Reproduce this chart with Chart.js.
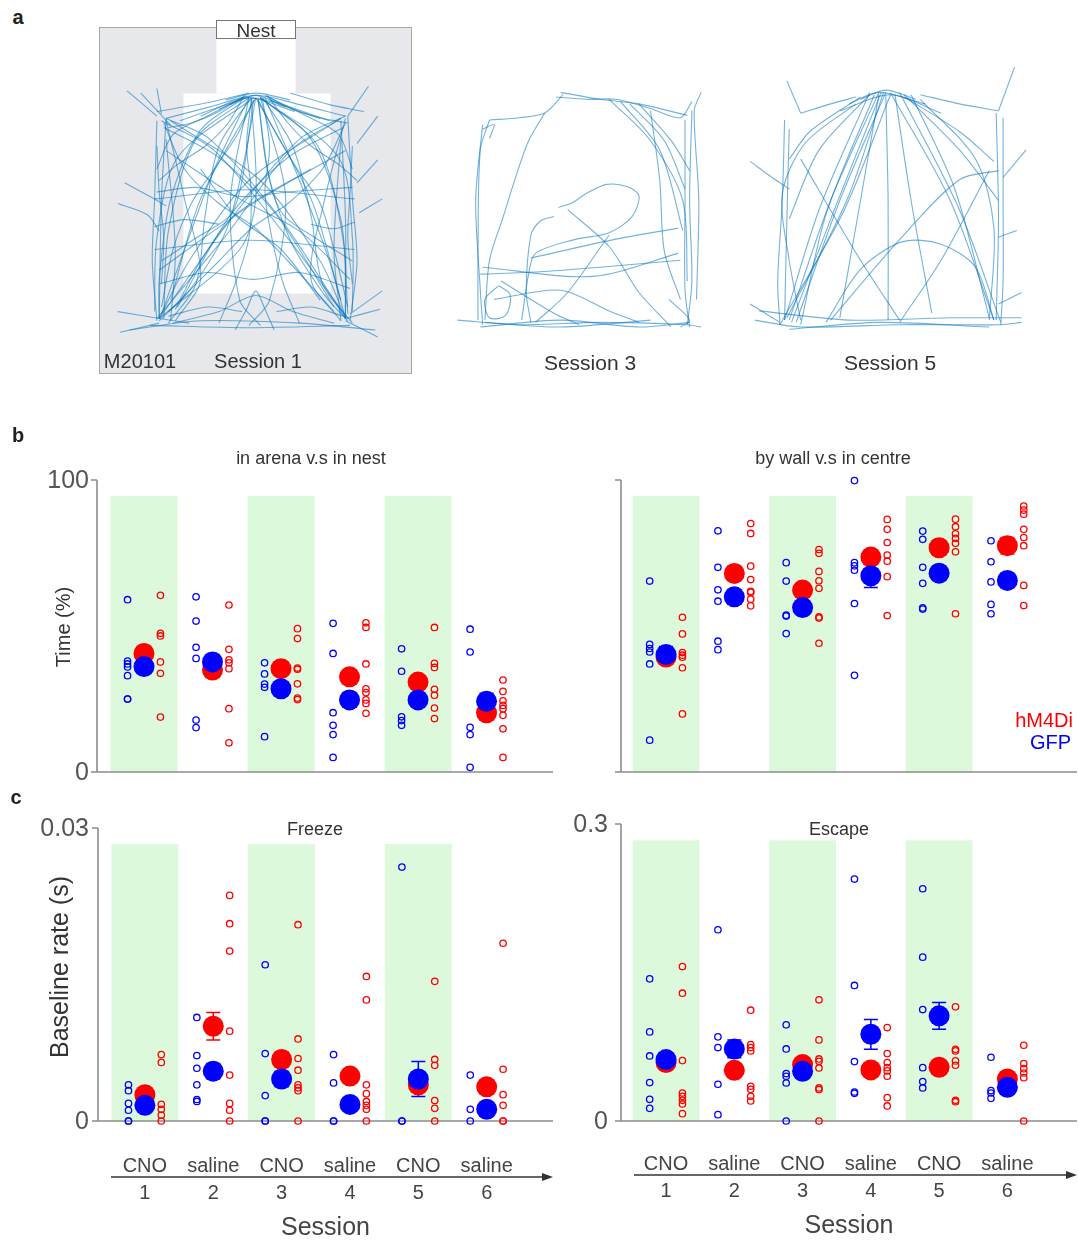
<!DOCTYPE html>
<html><head><meta charset="utf-8">
<script src="https://cdn.jsdelivr.net/npm/chart.js@4/dist/chart.umd.min.js"></script>
<style>
body{margin:0;background:#fff;width:1078px;height:1240px;position:relative;overflow:hidden;font-family:"Liberation Sans",Arial,sans-serif;color:#333}
canvas{position:absolute}
.t{position:absolute;white-space:nowrap;transform:translate(-50%,-50%);line-height:1}
.r{position:absolute;white-space:nowrap;transform:translate(-100%,-50%);line-height:1}
.v{position:absolute;white-space:nowrap;transform:translate(-50%,-50%) rotate(-90deg);line-height:1}
</style></head><body>
<canvas id="s1" width="316" height="358" style="left:97px;top:18px"></canvas>
<canvas id="s3" width="270" height="285" style="left:445px;top:60px"></canvas>
<canvas id="s5" width="310" height="290" style="left:740px;top:55px"></canvas>
<canvas id="bL" width="560" height="345" style="left:0px;top:440px"></canvas>
<canvas id="bR" width="518" height="345" style="left:560px;top:440px"></canvas>
<canvas id="cL" width="560" height="440" style="left:0px;top:800px"></canvas>
<canvas id="cR" width="518" height="440" style="left:560px;top:800px"></canvas>

<div class="t" style="left:18px;top:17px;font-size:20px;font-weight:bold;color:#222">a</div>
<div class="t" style="left:18px;top:435px;font-size:20px;font-weight:bold;color:#222">b</div>
<div class="t" style="left:16px;top:797px;font-size:20px;font-weight:bold;color:#222">c</div>
<div class="t" style="left:256px;top:30px;font-size:19px">Nest</div>
<div class="t" style="left:140px;top:361px;font-size:20px">M20101</div>
<div class="t" style="left:258px;top:361px;font-size:20px">Session 1</div>
<div class="t" style="left:590px;top:362px;font-size:21px">Session 3</div>
<div class="t" style="left:890px;top:362px;font-size:21px">Session 5</div>
<div class="t" style="left:311px;top:458px;font-size:18px">in arena v.s in nest</div>
<div class="t" style="left:833px;top:458px;font-size:18px">by wall v.s in centre</div>
<div class="t" style="left:315px;top:829px;font-size:18px">Freeze</div>
<div class="t" style="left:839px;top:829px;font-size:18px">Escape</div>
<div class="v" style="left:63px;top:627px;font-size:20px">Time (%)</div>
<div class="v" style="left:59px;top:967px;font-size:25px">Baseline rate (s)</div>
<div class="r" style="left:1073px;top:720px;font-size:20px;color:#ff0000">hM4Di</div>
<div class="r" style="left:1071px;top:742px;font-size:20px;color:#0000ff">GFP</div>

<script>
// ---------- categories ----------
const sessions = [1, 2, 3, 4, 5, 6];
const treatment = ['CNO', 'saline', 'CNO', 'saline', 'CNO', 'saline'];
const cnoSessions = [1, 3, 5];

// ---------- b: in arena v.s in nest (Time %) ----------
const arenaGFP = [[59,38,37,36,33,25,25],[60,51.7,42.7,38.9,17.8,15.2],[37.4,33.6,30.1,29,12.1],[50.9,40.6,20.3,16,12.8,5],[42.2,34.5,18.9,17.6,16],[48.9,41.1,15.3,12.8,1.6]];
const arenaHM4Di = [[60.5,47.5,46.6,37.7,33.8,18.8],[57.2,42,38.4,37.4,35.4,21.7,10],[49.1,45.7,35.6,35.2,30.2,25.3,24.8],[51.1,49.5,37,28.5,27.2,24.7,23.5,20.1],[49.5,37.2,35.8,28.3,26.3,21.9,18.3],[31.5,27.6,24.4,22.8,21.7,19.4,14.8,5]];
const arenaGFPMean = [36.1,37.7,28.5,24.7,24.7,24.2];
const arenaHM4DiMean = [40.6,34.9,35.4,32.6,30.8,20.3];
const arenaGFPSem = [2.2,2.5,2,2.5,2.2,2.8];
const arenaHM4DiSem = [2.5,2.5,2,2.2,2.2,2];

// ---------- b: by wall v.s in centre (Time %) ----------
const wallGFP = [[65.4,43.7,42.3,41.1,37,10.9],[82.6,70.1,62.4,58.5,44.8,41.9],[71.7,65.4,53.7,53.4,47.4],[99.8,71.7,70.6,69.1,57.7,33.1],[82.5,79.7,70.1,64.6,56.2,55.8],[79.2,72,65.1,57.4,54.2]];
const wallHM4Di = [[53,47.3,40.9,40,39.3,35.7,19.9],[85.1,81.7,70.5,65.9,61.9,61.5,59.2,56.9],[76.2,74.9,68.7,65.5,62.9,53.1,52.7,44.1],[86.5,83.1,78.6,74.3,72.2,66.9,53.6],[86.6,84,81.6,80,78.3,75.4,54.2],[91.1,89.7,88.3,83.1,80.3,77.5,63.9,57]];
const wallGFPMean = [40.2,60,56.3,67.2,68.1,65.6];
const wallHM4DiMean = [39.4,68,62.3,73.6,76.8,77.5];
const wallGFPSem = [2.8,2.5,2.2,4,2.5,2.5];
const wallHM4DiSem = [2,2.5,2.2,2.5,2.5,2.8];

// ---------- c: Freeze baseline rate (s) ----------
const freezeGFP = [[0.0037,0.0031,0.0018,0.0011,0,0],[0.0106,0.0067,0.0054,0.0037,0.0022,0.0020],[0.0160,0.0069,0.0026,0,0],[0.0068,0.0039,0,0],[0.0260,0,0],[0.0047,0.0012,0]];
const freezeHM4Di = [[0.0068,0.0060,0.0017,0.0012,0.0006,0],[0.0231,0.0202,0.0174,0.0092,0.0047,0.0018,0.0011,0],[0.0201,0.0084,0.0064,0.0052,0.0037,0.0034,0.0031,0],[0.0148,0.0124,0.0037,0.0028,0.0020,0.0016,0.0012,0],[0.0143,0.0063,0.0057,0.0021,0.0013,0],[0.0182,0.0053,0.0027,0.0016,0,0]];
const freezeGFPMean = [0.0016,0.0051,0.0043,0.0017,0.0043,0.0012];
const freezeHM4DiMean = [0.0027,0.0097,0.0063,0.0046,0.0037,0.0035];
const freezeGFPSem = [0.0005,0.0008,0.0008,0.0006,0.0018,0.0004];
const freezeHM4DiSem = [0.0006,0.0014,0.0008,0.0007,0.0006,0.0007];

// ---------- c: Escape baseline rate (s) ----------
const escapeGFP = [[0.1436,0.09,0.0657,0.0388,0.0219,0.0128],[0.1932,0.085,0.0742,0.0371,0.0064],[0.0971,0.0728,0.0479,0.0452,0.0384,0],[0.2444,0.1369,0.06,0.0293,0.028],[0.2346,0.1655,0.1126,0.0539,0.0398,0.0334],[0.0644,0.0307,0.0283,0.0229]];
const escapeHM4Di = [[0.156,0.1291,0.061,0.0283,0.0249,0.0209,0.0172,0.0074],[0.1119,0.0772,0.0742,0.0708,0.0351,0.032,0.0249,0.0202],[0.1224,0.0819,0.0627,0.0603,0.0536,0.0334,0.0317,0],[0.0944,0.0681,0.059,0.0539,0.0506,0.0452,0.0236,0.0152],[0.1153,0.0725,0.0708,0.0607,0.0563,0.0209,0.0195],[0.0765,0.058,0.0529,0.0485,0.0438,0]];
const escapeGFPMean = [0.062,0.0728,0.0502,0.0876,0.1062,0.034];
const escapeHM4DiMean = [0.059,0.0512,0.057,0.0516,0.0543,0.0425];
const escapeGFPSem = [0.007,0.009,0.006,0.015,0.0135,0.004];
const escapeHM4DiSem = [0.007,0.006,0.006,0.005,0.006,0.005];

// ---------- tick labels ----------
const timeTicks = [0, 100];
const timeTickLabels = ['0', '100'];
const freezeTicks = [0, 0.03];
const freezeTickLabels = ['0', '0.03'];
const escapeTicks = [0, 0.3];
const escapeTickLabels = ['0', '0.3'];

// ---------- a: arena zones (arena units) ----------
const s1ArenaBox = [-22.2, 113.5, -18.7, 131.7];
const s1Centre = [14.3, 78.3, 16.1, 103];
const s1Nest = [28.7, 63, 103, 134.8];
const s1NestLabel = [28.7, 63, 127, 134.8];

// ---------- a: trajectories (arena units) ----------
const traj1 = [
[[41,101],[22,87],[9,57],[4,22],[4,5]],
[[43,101],[28,70],[15,35],[5,7]],
[[48,101],[70,83],[83,48],[86,7]],
[[50,101],[65,65],[78,30],[85,5]],
[[46,101],[41,74],[33,43],[17,17],[4,4]],
[[47,101],[51,70],[61,39],[76,15],[86,4]],
[[4,5],[35,48],[65,83],[85,93]],
[[85,5],[57,48],[26,83],[7,92]],
[[3,91],[2,57],[1,30],[3,4]],
[[7,92],[5,57],[4,5]],
[[86,93],[88,57],[90,30],[87,4]],
[[83,91],[85,48],[85,5]],
[[0,2],[43,1],[87,2]],
[[-9,0],[22,4],[65,3],[98,0]],
[[7,92],[26,97],[46,102],[65,98],[85,93]],
[[3,95],[26,99],[43,103]],
[[61,103],[78,98],[93,95]],
[[-10,104],[3,93]],
[[3,105],[5,94]],
[[-4,103],[9,89]],
[[95,106],[86,93]],
[[99,93],[90,81]],
[[99,74],[90,64]],
[[101,57],[91,51]],
[[-11,64],[0,58],[7,54]],
[[-14,55],[-1,50],[4,43]],
[[-14,8],[4,5],[17,3]],
[[-13,-1],[4,3]],
[[101,17],[87,7]],
[[99,-3],[85,4]],
[[100,9],[85,5]],
[[4,5],[39,35],[46,57],[44,101]],
[[46,101],[22,57],[9,13]],
[[46,101],[70,57],[83,13]],
[[9,91],[48,65],[74,30],[85,5]],
[[83,92],[43,65],[17,30],[4,5]],
[[2,57],[43,61],[89,57]],
[[2,35],[43,39],[89,35]],
[[7,91],[15,57],[22,22],[11,4]],
[[85,92],[76,57],[70,22],[83,4]],
[[37,0],[42,9],[46,17],[50,9],[54,0]],
[[33,100],[46,103],[61,100]],
[[35,98],[46,102],[59,97]],
[[30,96],[43,101],[63,95]],
[[22,93],[43,101],[74,92]],
[[13,91],[39,100]],
[[52,100],[78,91]],
[[22,70],[37,50],[57,35],[74,13]],
[[70,70],[37,50],[22,30],[11,9]],
[[7,78],[39,57],[65,43],[87,22]],
[[85,78],[48,57],[22,39],[4,26]],
[[43,101],[35,57],[39,13],[48,2]],
[[48,101],[59,57],[52,13],[43,2]],
[[7,83],[11,35],[9,4]],
[[83,83],[80,35],[83,4]],
[[43,101],[20,83],[8,43],[6,5]],
[[48,101],[73,80],[84,39],[85,5]],
[[3,5],[33,41],[61,78],[83,92]],
[[86,5],[59,41],[28,78],[5,91]],
[[44,101],[30,80],[24,50],[20,20],[8,3]],
[[49,101],[62,80],[70,50],[75,20],[88,3]],
[[6,88],[30,75],[55,50],[80,10]],
[[84,88],[60,75],[35,50],[12,10]],
[[45,101],[12,75],[3,40],[2,8]],
[[48,101],[82,75],[88,40],[88,8]],
[[40,101],[30,95],[18,90],[8,88]],
[[52,101],[62,96],[75,92],[86,90]],
[[42,102],[25,93],[10,85],[3,70]],
[[50,102],[68,93],[82,85],[88,70]],
[[45,100],[38,85],[28,70],[18,55],[10,35],[5,10]],
[[47,100],[55,85],[64,70],[74,55],[80,35],[86,10]],
[[6,90],[15,70],[30,55],[45,45],[60,30],[80,8]],
[[85,90],[75,70],[60,55],[45,45],[30,30],[8,8]],
[[3,60],[20,62],[40,58],[60,60],[88,62]],
[[4,20],[25,25],[45,22],[65,25],[87,18]],
[[2,45],[15,48],[30,46]],
[[70,46],[80,44],[89,47]],
[[10,3],[30,8],[46,15],[62,8],[80,3]],
[[44,100],[42,80],[44,60],[43,40],[37,20],[30,3]],
[[49,100],[52,80],[50,60],[53,40],[58,20],[65,3]],
[[41,102],[34,90],[24,80],[12,72],[4,65]],
[[51,102],[60,90],[70,80],[82,72],[90,65]],
[[5,30],[20,40],[35,50],[40,65],[45,100]],
[[88,30],[72,40],[58,50],[52,65],[47,100]],
[[3,80],[4,60],[6,40],[5,20]],
[[88,80],[87,60],[86,40],[88,20]],
[[8,6],[25,10],[40,8]],
[[55,8],[70,10],[84,6]]
];
const traj3 = [
[[5,90],[1,77],[0,33],[0,3]],
[[2,88],[-1,55],[1,16],[2,1]],
[[5,90],[18,91],[29,93],[37,101]],
[[34,100],[47,99],[60,99],[75,95],[88,91],[93,98]],
[[36,102],[53,99],[70,97],[91,92]],
[[93,94],[92,55],[93,20],[91,1]],
[[90,90],[90,55],[90,16],[92,0]],
[[97,102],[94,94],[96,55],[95,12]],
[[57,99],[75,81],[89,55],[91,20]],
[[62,98],[79,77],[89,42]],
[[66,97],[81,81],[90,60]],
[[70,97],[84,81],[92,68]],
[[-9,3],[18,1],[53,2],[91,1],[97,0]],
[[1,0],[36,3],[70,0],[92,2]],
[[3,2],[36,0],[75,3]],
[[29,93],[22,81],[16,64],[11,48],[5,29],[3,3]],
[[35,52],[41,54],[47,58],[56,62],[65,61],[70,57],[67,48],[57,41],[42,38],[25,32],[22,23],[19,3]],
[[33,48],[27,46],[23,40],[21,15],[23,2]],
[[39,51],[57,35],[70,15],[84,0]],
[[2,26],[50,22],[87,32]],
[[1,23],[27,24],[53,26],[88,29]],
[[23,30],[59,38],[87,43]],
[[9,18],[14,14],[12,5],[5,4],[3,12],[9,18]],
[[10,20],[33,6],[44,1]],
[[57,40],[39,15],[25,2]],
[[7,12],[36,16],[57,7],[70,2]],
[[83,12],[92,3],[88,0]],
[[2,86],[7,88],[5,82]],
[[75,94],[79,64],[81,33],[88,12]]
];
const traj5 = [
[[9,93],[22,97],[33,100]],
[[61,101],[78,97],[95,94]],
[[3,107],[9,93]],
[[102,113],[95,94]],
[[2,90],[1,55],[-1,20],[0,1]],
[[4,86],[3,47],[2,3]],
[[97,91],[97,55],[97,20],[96,1]],
[[94,93],[95,47],[94,3]],
[[-11,3],[9,0],[52,1],[96,1],[105,2]],
[[-9,7],[30,3],[74,4],[105,4]],
[[4,-1],[43,2],[91,0]],
[[-13,72],[-2,64],[4,60]],
[[-13,10],[0,2]],
[[107,77],[97,65]],
[[103,42],[95,39]],
[[105,15],[95,10]],
[[39,102],[17,51],[2,3]],
[[43,102],[22,55],[4,3]],
[[46,102],[26,55],[7,2]],
[[48,101],[28,51],[0,1]],
[[41,101],[20,49],[9,1]],
[[48,102],[74,55],[93,3]],
[[52,102],[78,51],[96,2]],
[[57,101],[76,60],[91,4]],
[[46,101],[47,55],[47,3]],
[[43,101],[35,55],[26,4]],
[[50,101],[57,55],[66,6]],
[[20,2],[35,25],[53,37],[70,36],[85,26],[93,3]],
[[33,97],[11,80],[1,58],[4,29],[9,3]],
[[61,99],[85,73],[93,43],[91,3]],
[[54,100],[78,85],[93,72]],
[[35,100],[13,85],[4,73]],
[[9,73],[35,29],[52,3]],
[[91,68],[70,29],[52,2]],
[[22,3],[52,38],[78,64],[95,68]],
[[35,99],[46,103],[59,99]],
[[30,97],[43,102],[63,97]],
[[26,94],[48,101],[70,93]],
[[39,101],[17,77],[4,47]],
[[54,101],[78,77],[95,55]],
[[44,102],[24,52],[5,2]],
[[45,102],[29,55],[3,4]]
];

// ---------- styling ----------
const RED = '#ff0000', BLUE = '#0000ff';
const FONT = '"Liberation Sans", Arial, sans-serif';
const TRAJ = 'rgba(0,114,189,0.55)';

// ---------- trajectory panels ----------
function trajChart(id, paths, xr, yr, zonePlugin) {
  const datasets = paths.map(p => ({
    data: p.map(([x, y]) => ({x, y})),
    showLine: true, borderColor: TRAJ, borderWidth: 1.1, pointRadius: 0,
    tension: 0.3, fill: false, clip: false
  }));
  new Chart(document.getElementById(id), {
    type: 'scatter',
    data: {datasets},
    options: {
      responsive: false, animation: false, devicePixelRatio: 1, events: [],
      layout: {padding: 0, autoPadding: false},
      plugins: {legend: {display: false}, tooltip: {enabled: false}},
      scales: {
        x: {type: 'linear', display: false, min: xr[0], max: xr[1]},
        y: {type: 'linear', display: false, min: yr[0], max: yr[1]}
      }
    },
    plugins: zonePlugin ? [zonePlugin] : []
  });
}

const s1Zones = {
  id: 's1zones',
  beforeDatasetsDraw(chart) {
    const {ctx, scales: {x, y}} = chart;
    const rect = (z) => {
      const l = x.getPixelForValue(z[0]), r = x.getPixelForValue(z[1]);
      const b = y.getPixelForValue(z[2]), t = y.getPixelForValue(z[3]);
      return [Math.round(l) + 0.5, Math.round(t) + 0.5, Math.round(r - l), Math.round(b - t)];
    };
    ctx.save();
    let r = rect(s1ArenaBox);
    ctx.fillStyle = '#e6e8ec'; ctx.fillRect(...r);
    ctx.strokeStyle = '#a8a8a8'; ctx.lineWidth = 1; ctx.strokeRect(...r);
    ctx.fillStyle = '#ffffff';
    ctx.fillRect(...rect(s1Centre));
    ctx.fillRect(...rect(s1Nest));
    r = rect(s1NestLabel);
    ctx.strokeStyle = '#777'; ctx.strokeRect(...r);
    ctx.restore();
  }
};

trajChart('s1', traj1, [-23.04, 114.35], [-20, 135.65], s1Zones);
trajChart('s3', traj3, [-14.35, 103.04], [-7.83, 116.09]);
trajChart('s5', traj5, [-17.39, 117.39], [-7.83, 118.26]);

// ---------- dot panels ----------
function deco(o) {
  return {
    id: 'deco',
    beforeDatasetsDraw(chart) {
      const {ctx, chartArea: a, scales: {x, y}} = chart;
      ctx.save();
      const y0 = y.getPixelForValue(0), yt = y.getPixelForValue(o.ymax * 0.945);
      ctx.fillStyle = '#dcf9dc';
      cnoSessions.forEach(s => {
        const l = x.getPixelForValue(s - 0.49), r = x.getPixelForValue(s + 0.49);
        ctx.fillRect(l, yt, r - l, y0 - yt);
      });
      ctx.strokeStyle = '#8c8c8c'; ctx.lineWidth = 1.6;
      ctx.beginPath();
      ctx.moveTo(a.left, y.getPixelForValue(o.ymax)); ctx.lineTo(a.left, y0); ctx.lineTo(a.right, y0);
      o.ticks.forEach(v => { const py = y.getPixelForValue(v); ctx.moveTo(a.left - 6, py); ctx.lineTo(a.left, py); });
      ctx.stroke();
      if (o.tickLabels) {
        ctx.fillStyle = '#555'; ctx.font = '25px ' + FONT;
        ctx.textAlign = 'right'; ctx.textBaseline = 'middle';
        o.ticks.forEach((v, i) => ctx.fillText(o.tickLabels[i], a.left - o.tickGap, y.getPixelForValue(v) + 1));
      }
      o.err.forEach(e => {
        ctx.strokeStyle = e.color; ctx.lineWidth = 1.5; ctx.beginPath();
        e.mean.forEach((m, i) => {
          const px = x.getPixelForValue(sessions[i]);
          const y1 = y.getPixelForValue(m + e.sem[i]), y2 = y.getPixelForValue(m - e.sem[i]);
          ctx.moveTo(px, y1); ctx.lineTo(px, y2);
          ctx.moveTo(px - 7, y1); ctx.lineTo(px + 7, y1);
          ctx.moveTo(px - 7, y2); ctx.lineTo(px + 7, y2);
        });
        ctx.stroke();
      });
      ctx.restore();
    },
    afterDraw(chart) {
      if (!o.sessionAxis) return;
      const {ctx, chartArea: a, scales: {x}} = chart;
      const yA = a.bottom + o.sessionAxis;
      ctx.save();
      ctx.strokeStyle = '#333'; ctx.lineWidth = 1.6;
      ctx.beginPath(); ctx.moveTo(a.left + 13, yA); ctx.lineTo(a.right - 8, yA); ctx.stroke();
      ctx.fillStyle = '#333';
      ctx.beginPath(); ctx.moveTo(a.right, yA); ctx.lineTo(a.right - 11, yA - 4); ctx.lineTo(a.right - 11, yA + 4); ctx.closePath(); ctx.fill();
      ctx.fillStyle = '#444'; ctx.font = '20px ' + FONT; ctx.textAlign = 'center'; ctx.textBaseline = 'middle';
      sessions.forEach((s, i) => {
        const px = x.getPixelForValue(s);
        ctx.fillText(treatment[i], px, yA - 11);
        ctx.fillText(String(s), px, yA + 16);
      });
      ctx.font = '25px ' + FONT;
      ctx.fillText('Session', (a.left + a.right) / 2, yA + 51);
      ctx.restore();
    }
  };
}

function dotChart(id, o) {
  const ind = (arr, off) => arr.flatMap((vals, i) => vals.map(v => ({x: sessions[i] + off, y: v})));
  const mean = (arr) => arr.map((v, i) => ({x: sessions[i], y: v}));
  const datasets = [
    {label: 'GFP mean', data: mean(o.gfpMean), pointRadius: 10.5, pointBackgroundColor: BLUE, pointBorderWidth: 0, pointBorderColor: BLUE, clip: false},
    {label: 'hM4Di mean', data: mean(o.hmMean), pointRadius: 10.5, pointBackgroundColor: RED, pointBorderWidth: 0, pointBorderColor: RED, clip: false},
    {label: 'GFP', data: ind(o.gfp, -0.24), pointRadius: 3.2, pointBackgroundColor: 'rgba(0,0,0,0)', pointBorderColor: BLUE, pointBorderWidth: 1.3, clip: false},
    {label: 'hM4Di', data: ind(o.hm, 0.24), pointRadius: 3.2, pointBackgroundColor: 'rgba(0,0,0,0)', pointBorderColor: RED, pointBorderWidth: 1.3, clip: false}
  ];
  new Chart(document.getElementById(id), {
    type: 'scatter',
    data: {datasets},
    options: {
      responsive: false, animation: false, devicePixelRatio: 1, events: [],
      layout: {padding: o.pad, autoPadding: false},
      plugins: {legend: {display: false}, tooltip: {enabled: false}},
      scales: {
        x: {type: 'linear', display: false, min: o.xr[0], max: o.xr[1]},
        y: {type: 'linear', display: false, min: 0, max: o.ymax}
      }
    },
    plugins: [deco({
      ymax: o.ymax, ticks: o.ticks, tickLabels: o.tickLabels, tickGap: o.tickGap,
      sessionAxis: o.sessionAxis,
      err: [{color: RED, mean: o.hmMean, sem: o.hmSem}, {color: BLUE, mean: o.gfpMean, sem: o.gfpSem}]
    })]
  });
}

dotChart('bL', {gfp: arenaGFP, hm: arenaHM4Di, gfpMean: arenaGFPMean, hmMean: arenaHM4DiMean, gfpSem: arenaGFPSem, hmSem: arenaHM4DiSem,
  ymax: 100, ticks: timeTicks, tickLabels: timeTickLabels, tickGap: 8, xr: [0.314, 6.97],
  pad: {left: 97, right: 7, top: 40, bottom: 13}});
dotChart('bR', {gfp: wallGFP, hm: wallHM4Di, gfpMean: wallGFPMean, hmMean: wallHM4DiMean, gfpSem: wallGFPSem, hmSem: wallHM4DiSem,
  ymax: 100, ticks: timeTicks, tickLabels: null, tickGap: 8, xr: [0.34, 7.02],
  pad: {left: 61, right: 1, top: 40, bottom: 13}});
dotChart('cL', {gfp: freezeGFP, hm: freezeHM4Di, gfpMean: freezeGFPMean, hmMean: freezeHM4DiMean, gfpSem: freezeGFPSem, hmSem: freezeHM4DiSem,
  ymax: 0.03, ticks: freezeTicks, tickLabels: freezeTickLabels, tickGap: 9, xr: [0.314, 6.97], sessionAxis: 56,
  pad: {left: 98, right: 7, top: 28, bottom: 119}});
dotChart('cR', {gfp: escapeGFP, hm: escapeHM4Di, gfpMean: escapeGFPMean, hmMean: escapeHM4DiMean, gfpSem: escapeGFPSem, hmSem: escapeHM4DiSem,
  ymax: 0.3, ticks: escapeTicks, tickLabels: escapeTickLabels, tickGap: 13, xr: [0.34, 7.02], sessionAxis: 54,
  pad: {left: 61, right: 1, top: 24, bottom: 119}});
</script>
</body></html>
